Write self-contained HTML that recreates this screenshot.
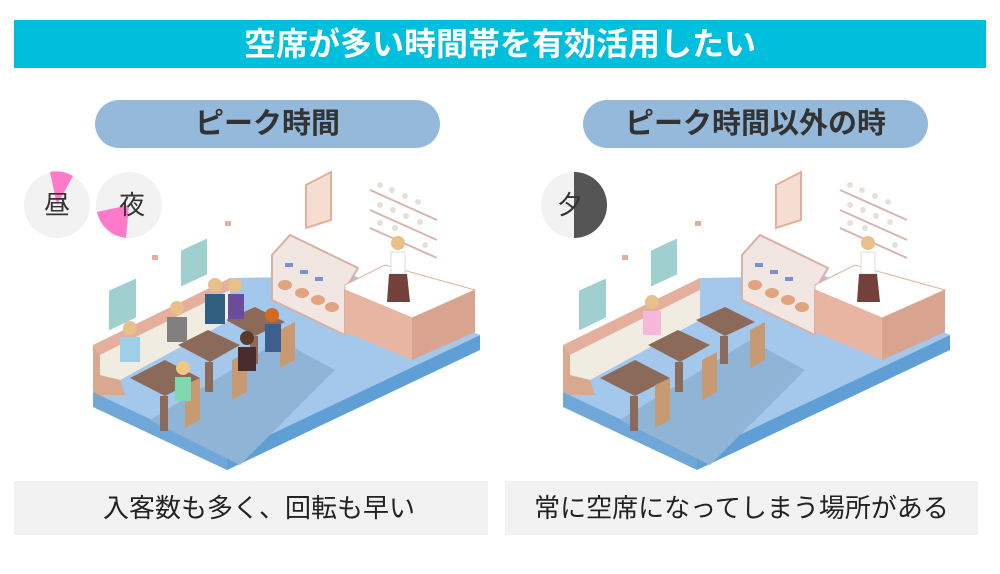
<!DOCTYPE html>
<html><head><meta charset="utf-8"><style>
body{margin:0;width:1000px;height:574px;background:#fff;position:relative;overflow:hidden;font-family:"Liberation Sans","Noto Sans CJK JP",sans-serif}
.t{position:absolute;left:14px;top:20px;width:972px;height:48px;background:#00bfdc;color:#fff;font-size:32px;font-weight:bold;text-align:center;line-height:48px}
.p{position:absolute;top:100px;width:345px;height:48px;background:#94b9da;border-radius:24px;color:#333;font-size:29px;font-weight:bold;text-align:center;line-height:48px}
.b{position:absolute;top:481px;height:54px;background:#f2f2f2;color:#222;font-size:26px;text-align:center;line-height:54px}
svg{position:absolute;left:0;top:0}
</style></head><body>
<div class="t">空席が多い時間帯を有効活用したい</div>
<div class="p" style="left:95px">ピーク時間</div>
<div class="p" style="left:583px">ピーク時間以外の時</div>
<div class="b" style="left:14px;width:474px;text-indent:16px">入客数も多く、回転も早い</div>
<div class="b" style="left:505px;width:473px">常に空席になってしまう場所がある</div>
<svg width="1000" height="574">
<defs>
<g id="scene">
 <polygon points="93,392 227,455 480,335 355,276 230,278" fill="#a3c8ec"/>
 <polygon points="93,392 227,455 227,470 93,407" fill="#6fa8d8"/>
 <polygon points="227,455 480,335 480,350 227,470" fill="#5f9fd6"/>
 <polygon points="150,420 240,465 335,370 280,340" fill="#8fb4d6"/>
 <polygon points="93,345 230,278 230,290 100,355" fill="#e4b09d"/>
 <polygon points="100,355 230,290 230,320 120,380 100,375" fill="#f1ece1"/>
 <polygon points="93,345 100,355 100,395 93,392" fill="#d9a98f"/>
 <polygon points="100,375 120,380 125,395 100,395" fill="#d9a98f"/>
 <polygon points="108,290 137,277 137,318 108,332" fill="#9fcfcf" stroke="#fff" stroke-width="2"/>
 <polygon points="180,250 208,237 208,275 180,288" fill="#9fcfcf" stroke="#fff" stroke-width="2"/>
 <rect x="152" y="255" width="6" height="5" fill="#e4b09d"/>
 <rect x="225" y="221" width="6" height="5" fill="#e4b09d"/>
 <polygon points="306,185 331,172 331,220 306,228" fill="#f6ddd2" stroke="#e4b09d" stroke-width="2"/>
 <g stroke="#d7b6b0" stroke-width="2"><line x1="370" y1="190" x2="437" y2="220"/><line x1="370" y1="210" x2="437" y2="240"/><line x1="370" y1="228" x2="437" y2="258"/></g>
 <g fill="#e8e0d8"><circle cx="380" cy="185" r="3"/><circle cx="392" cy="190" r="3"/><circle cx="405" cy="196" r="3"/><circle cx="418" cy="202" r="3"/><circle cx="380" cy="205" r="3"/><circle cx="393" cy="210" r="3"/><circle cx="406" cy="216" r="3"/><circle cx="420" cy="222" r="3"/><circle cx="380" cy="223" r="3"/><circle cx="395" cy="228" r="3"/><circle cx="425" cy="245" r="3"/></g>
 <polygon points="272,255 290,235 358,268 345,290 345,335 272,300" fill="#f2e6e2" stroke="#d8b0a4" stroke-width="2"/>
 <g fill="#e2a47f"><ellipse cx="285" cy="285" rx="7" ry="5"/><ellipse cx="302" cy="293" rx="7" ry="5"/><ellipse cx="318" cy="300" rx="7" ry="5"/><ellipse cx="332" cy="307" rx="7" ry="5"/></g>
 <g fill="#7a90d0"><rect x="285" y="263" width="8" height="4"/><rect x="300" y="270" width="8" height="4"/><rect x="315" y="277" width="8" height="4"/></g>
 <polygon points="345,285 385,265 475,290 412,318 345,290" fill="#fff" stroke="#e4b09d" stroke-width="1"/>
 <polygon points="345,290 412,318 412,360 345,332" fill="#e8b5a2"/>
 <polygon points="412,318 475,290 475,332 412,360" fill="#d9a48f"/>
 <circle cx="398" cy="243" r="7" fill="#e9bf8a"/>
 <rect x="391" y="252" width="14" height="22" fill="#fff" stroke="#ddd"/>
 <polygon points="389,274 407,274 410,302 387,302" fill="#74403a"/>
 <g fill="#8b6a5a">
  <polygon points="130,378 165,360 200,378 165,396"/>
  <rect x="160" y="396" width="8" height="35"/>
  <polygon points="178,345 208,330 240,345 210,362"/>
  <rect x="205" y="362" width="8" height="30"/>
  <polygon points="226,320 255,307 285,322 255,336"/>
  <rect x="250" y="336" width="8" height="28"/>
 </g>
 <g fill="#c89a72">
  <polygon points="185,385 200,378 200,420 185,428"/>
  <polygon points="232,360 247,352 247,392 232,400"/>
  <polygon points="280,330 295,322 295,360 280,368"/>
 </g>
</g>
</defs>
<circle cx="57" cy="205" r="33" fill="#f2f2f2"/>
<path d="M57,205 L50,172 A33,33 0 0 1 73,176 Z" fill="#ff7ac8"/>
<text x="57" y="214" font-size="26" text-anchor="middle" fill="#333" font-family="Liberation Sans,Noto Sans CJK JP,sans-serif">昼</text>
<circle cx="129" cy="205" r="33" fill="#f2f2f2"/>
<path d="M129,205 L97,212 A33,33 0 0 0 126,238 Z" fill="#ff7ac8"/>
<text x="132" y="214" font-size="26" text-anchor="middle" fill="#333" font-family="Liberation Sans,Noto Sans CJK JP,sans-serif">夜</text>
<circle cx="574" cy="205" r="33" fill="#f2f2f2"/>
<path d="M574,172 A33,33 0 0 1 574,238 Z" fill="#555"/>
<text x="570" y="214" font-size="26" text-anchor="middle" fill="#333" font-family="Liberation Sans,Noto Sans CJK JP,sans-serif">夕</text>
<use href="#scene"/>
<use href="#scene" x="470"/>
<g>
 <circle cx="130" cy="328" r="7" fill="#e9bf8a"/><rect x="120" y="337" width="20" height="25" fill="#9cd0e8"/>
 <circle cx="177" cy="308" r="7" fill="#e9bf8a"/><rect x="167" y="317" width="20" height="25" fill="#808080"/>
 <circle cx="215" cy="285" r="7" fill="#e9bf8a"/><rect x="205" y="294" width="20" height="30" fill="#2f5e7e"/>
 <circle cx="235" cy="285" r="7" fill="#e9bf8a"/><rect x="228" y="294" width="16" height="25" fill="#6a4c9c"/>
 <circle cx="272" cy="315" r="7" fill="#d46a1f"/><rect x="265" y="324" width="16" height="28" fill="#3d5f8f"/>
 <circle cx="247" cy="338" r="7" fill="#5b3a2a"/><rect x="238" y="347" width="18" height="24" fill="#4a2c2c"/>
 <circle cx="183" cy="368" r="7" fill="#f0c880"/><rect x="175" y="377" width="16" height="24" fill="#7ed8b0"/>
</g>
<circle cx="652" cy="302" r="7" fill="#e9bf8a"/><rect x="643" y="311" width="18" height="24" fill="#f5b8d8"/>
</svg>
</body></html>
